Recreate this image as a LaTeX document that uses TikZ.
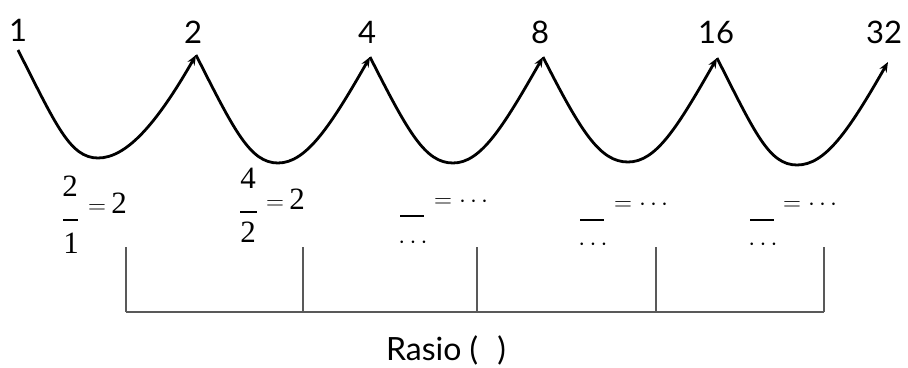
\documentclass[tikz,border=0pt]{standalone}
\usepackage{fontspec}
\setmainfont{Lato}
\newfontfamily\camfont{Liberation Serif}
\usetikzlibrary{arrows.meta,calc}
\begin{document}
\begin{tikzpicture}[x=1pt,y=-1pt,
  wave/.style={line width=2.8pt,-{Stealth[length=10pt,width=8pt]}},
  num/.style={font=\fontsize{31}{33}\selectfont,inner sep=0pt},
  frac/.style={font=\fontsize{31}{33}\selectfont\camfont,inner sep=0pt},
  eqs/.style={font=\fontsize{28}{30}\selectfont\camfont,inner sep=0pt},
  dots/.style={font=\fontsize{24}{26}\selectfont,inner sep=0pt},
  tick/.style={line width=1.4pt,draw=black!65}]
\useasboundingbox (0,0) rectangle (908,367);
% labels
\node[num] (n1) at (18,30) {1};
\node[num] (n2) at (193,32) {2};
\node[num] (n4) at (367,32) {4};
\node[num] (n8) at (540,32) {8};
\node[num] (n16) at (716,32) {16};
\node[num] (n32) at (884,32) {32};
% peaks and troughs
\coordinate (p0) at (18,50);
\coordinate (p1) at (196,55);
\coordinate (p2) at (370,57);
\coordinate (p3) at (543,57);
\coordinate (p4) at (717,58);
\coordinate (p5) at (888,62);
\coordinate (t1) at (98,158);
\coordinate (t2) at (278,163);
\coordinate (t3) at (453,163);
\coordinate (t4) at (628,162);
\coordinate (t5) at (797,165);
\foreach \a/\t/\b in {p0/t1/p1,p1/t2/p2,p2/t3/p3,p3/t4/p4,p4/t5/p5}{
  \draw[wave] (\a) .. controls ($(\a)+(38,75)$) and ($(\t)+(-28,0)$) .. (\t)
     .. controls ($(\t)+(28,0)$) and ($(\b)+(-40,70)$) .. (\b);
}
% fractions
\node[frac] (f1n) at (70,186) {2};
\draw[line width=1.8pt] (63,220) -- (78,220);
\node[frac] (f1d) at (71,243) {1};
\node[frac,anchor=west] (f1e) at (88,203) {$=$\,2};
\node[frac] (f2n) at (248,178) {4};
\draw[line width=1.8pt] (240,212) -- (257,212);
\node[frac] (f2d) at (248,232) {2};
\node[frac,anchor=west] (f2e) at (266,199) {$=$\,2};
\foreach \bx/\ex/\by/\ey/\dy/\nm in {400/434/216/202/243/a,580/614/220/205/245/b,750/783/220/205/245/c}{
  \draw[line width=1.9pt] (\bx,\by) -- (\bx+24,\by);
  \node[eqs,anchor=west] (e\nm) at (\ex,\ey) {$=\cdots$};
  \node[dots] (d\nm) at (\bx+13,\dy) {$\cdots$};
}
% ratio bracket
\coordinate (v1t) at (126,247); \coordinate (v1b) at (126,312);
\coordinate (v2t) at (303,247); \coordinate (v2b) at (303,312);
\coordinate (v3t) at (477,247); \coordinate (v3b) at (477,312);
\coordinate (v4t) at (656,247); \coordinate (v4b) at (656,312);
\coordinate (v5t) at (824,247); \coordinate (v5b) at (824,312);
\foreach \i in {1,...,5}{\draw[tick] (v\i t) -- (v\i b);}
\draw[tick] (v1b) -- (v5b);
\node[font=\fontsize{32}{34}\selectfont,inner sep=0pt] (rasio) at (446,350) {Rasio (\hspace{0.6em})};
\end{tikzpicture}
\end{document}
